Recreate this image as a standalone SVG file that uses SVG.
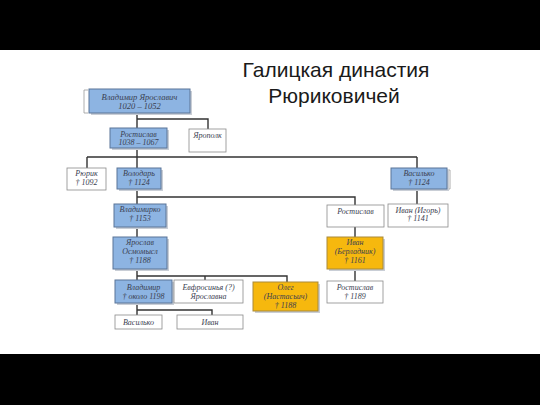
<svg xmlns="http://www.w3.org/2000/svg" width="540" height="405" viewBox="0 0 540 405">
<defs>
<style>
.bar{fill:#000}
.blue{fill:#8db4e2;stroke:#5b7597;stroke-width:1}
.orange{fill:#f6b80e;stroke:#a98a3a;stroke-width:1}
.white{fill:#fff;stroke:#8a8a8a;stroke-width:0.8}
.sh{fill:#c9ced6}
.t{font-family:"Liberation Serif","DejaVu Serif",serif;font-style:italic;font-size:8px;fill:#3a4050;text-anchor:middle}
.c{fill:none;stroke:#333;stroke-width:1.4}
.title{font-family:"Liberation Sans",Arial,sans-serif;font-size:21px;fill:#1a1a1a;text-anchor:middle}
.stray{fill:none;stroke:#9a9a9a;stroke-width:0.8}
</style>
</defs>
<rect width="540" height="405" fill="#fff"/>
<rect class="bar" x="0" y="0" width="540" height="50"/>
<rect class="bar" x="0" y="354" width="540" height="51"/>
<g id="title">
<text class="title" x="336" y="77">Галицкая династия</text>
<text class="title" x="334" y="103">Рюриковичей</text>
</g>
<g id="connectors">
<path class="c" d="M137 113V128M137 119H208V129"/>
<path class="c" d="M87 157H417M87 157V168M137 149V168M417 157V168"/>
<path class="c" d="M137 189V204M137 197H355V205"/>
<path class="c" d="M417 189V204"/>
<path class="c" d="M137 227V237M355 227V237"/>
<path class="c" d="M137 269V280M137 276H287V282M205 276V280"/>
<path class="c" d="M355 269V281"/>
<path class="c" d="M137 303V315M137 310H212V315"/>
</g>
<g id="stray">
<path class="stray" d="M88 90H84V113H88"/>
<path class="stray" d="M447 170H450V189H447"/>
</g>
<g id="n1"><rect class="sh" x="91" y="91" width="101" height="24"/><rect class="blue" x="89" y="89" width="101" height="24"/><text class="t" x="139.5" y="99.5" style="font-size:8.5px">Владимир Ярославич</text><text class="t" x="139.5" y="109" style="font-size:8.5px">1020 – 1052</text></g>
<g id="n2"><rect class="sh" x="112" y="130" width="57" height="20"/><rect class="blue" x="110" y="128" width="57" height="20"/><text class="t" x="138.5" y="136.5">Ростислав</text><text class="t" x="138.5" y="145">1038 – 1067</text></g>
<g id="n3"><rect class="white" x="189" y="129" width="37" height="23"/><text class="t" x="207.5" y="138">Ярополк</text></g>
<g id="n4"><rect class="white" x="67" y="168" width="39" height="22"/><text class="t" x="86.5" y="175.5">Рюрик</text><text class="t" x="86.5" y="184.5">† 1092</text></g>
<g id="n5"><rect class="sh" x="119" y="170" width="44" height="21"/><rect class="blue" x="117" y="168" width="44" height="21"/><text class="t" x="139" y="175.5">Володарь</text><text class="t" x="139" y="184.5">† 1124</text></g>
<g id="n6"><rect class="sh" x="393" y="170" width="56" height="21"/><rect class="blue" x="391" y="168" width="56" height="21"/><text class="t" x="419" y="175.5">Василько</text><text class="t" x="419" y="184.5">† 1124</text></g>
<g id="n7"><rect class="sh" x="116" y="206" width="52" height="23"/><rect class="blue" x="114" y="204" width="52" height="23"/><text class="t" x="140" y="212">Владимирко</text><text class="t" x="140" y="221">† 1153</text></g>
<g id="n8"><rect class="white" x="327" y="205" width="57" height="22"/><text class="t" x="355.5" y="213.5">Ростислав</text></g>
<g id="n9"><rect class="white" x="388" y="204" width="60" height="23"/><text class="t" x="418" y="213">Иван (Игорь)</text><text class="t" x="418" y="221">† 1141</text></g>
<g id="n10"><rect class="sh" x="115" y="239" width="54" height="32"/><rect class="blue" x="113" y="237" width="54" height="32"/><text class="t" x="140" y="245">Ярослав</text><text class="t" x="140" y="254">Осмомысл</text><text class="t" x="140" y="262.5">† 1188</text></g>
<g id="n11"><rect class="sh" x="329" y="239" width="56" height="32"/><rect class="orange" x="327" y="237" width="56" height="32"/><text class="t" x="355" y="245">Иван</text><text class="t" x="355" y="254">(Берладник)</text><text class="t" x="355" y="262.5">† 1161</text></g>
<g id="n12"><rect class="sh" x="117" y="282" width="57" height="23"/><rect class="blue" x="115" y="280" width="57" height="23"/><text class="t" x="143.5" y="290">Владимир</text><text class="t" x="143.5" y="299">† около 1198</text></g>
<g id="n13"><rect class="white" x="174" y="280" width="69" height="23"/><text class="t" x="208.5" y="290">Евфросинья (?)</text><text class="t" x="208.5" y="299">Ярославна</text></g>
<g id="n14"><rect class="sh" x="255" y="284" width="65" height="29"/><rect class="orange" x="253" y="282" width="65" height="29"/><text class="t" x="285.5" y="290">Олег</text><text class="t" x="285.5" y="299">(Настасьич)</text><text class="t" x="285.5" y="307.5">† 1188</text></g>
<g id="n15"><rect class="white" x="327" y="281" width="56" height="22"/><text class="t" x="355" y="290">Ростислав</text><text class="t" x="355" y="299">† 1189</text></g>
<g id="n16"><rect class="white" x="115" y="315" width="47" height="14"/><text class="t" x="138.5" y="325">Василько</text></g>
<g id="n17"><rect class="white" x="177" y="315" width="66" height="14"/><text class="t" x="210" y="325">Иван</text></g>
</svg>
